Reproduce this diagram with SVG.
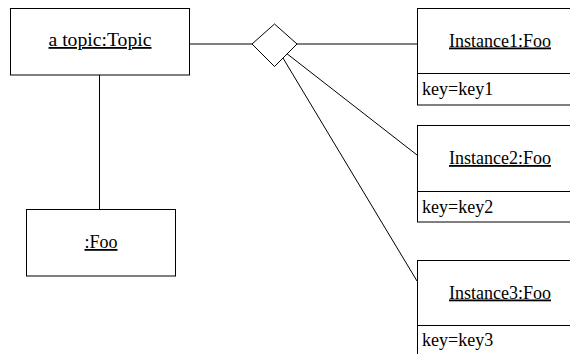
<svg xmlns="http://www.w3.org/2000/svg" width="570" height="354" viewBox="0 0 570 354">
<style>
.box{fill:#fff;stroke:#000;stroke-width:1}
.ln{stroke:#000;stroke-width:1;fill:none}
.t{font-family:'Liberation Serif','Times New Roman','DejaVu Serif',serif;font-size:18px;fill:#000}
.u{text-decoration:underline;text-anchor:middle}
</style>
<rect width="570" height="354" fill="#fff"/>
<g id="connectors">
<line class="ln" x1="190" y1="44" x2="252" y2="44"/>
<line class="ln" x1="297" y1="44" x2="417" y2="44"/>
<line class="ln" x1="286.8" y1="53.6" x2="417" y2="155"/>
<line class="ln" x1="282.6" y1="57.4" x2="417" y2="281"/>
<line class="ln" x1="99.5" y1="75" x2="99.5" y2="209"/>
</g>
<g id="topic">
<rect class="box" x="10.5" y="8.5" width="179" height="66.5"/>
<text class="t u" x="100" y="46" textLength="103" lengthAdjust="spacingAndGlyphs">a topic:Topic</text>
</g>
<g id="foo">
<rect class="box" x="26.5" y="209.5" width="149" height="66.5"/>
<text class="t u" x="101" y="248">:Foo</text>
</g>
<g id="association">
<polygon class="box" points="252,44 274.5,24 297,44 274.5,66.5"/>
</g>
<g id="instance1">
<rect class="box" x="417.5" y="8.5" width="166" height="96.5"/>
<line class="ln" x1="417.5" y1="73.5" x2="583.5" y2="73.5"/>
<text class="t u" x="500" y="46.5">Instance1:Foo</text>
<text class="t" x="422" y="95">key=key1</text>
</g>
<g id="instance2">
<rect class="box" x="417.5" y="125.5" width="166" height="96.5"/>
<line class="ln" x1="417.5" y1="191.5" x2="583.5" y2="191.5"/>
<text class="t u" x="500" y="164">Instance2:Foo</text>
<text class="t" x="422" y="213">key=key2</text>
</g>
<g id="instance3">
<rect class="box" x="417.5" y="260.5" width="166" height="96.5"/>
<line class="ln" x1="417.5" y1="325.5" x2="583.5" y2="325.5"/>
<text class="t u" x="500" y="298.5">Instance3:Foo</text>
<text class="t" x="422" y="346">key=key3</text>
</g>
</svg>
